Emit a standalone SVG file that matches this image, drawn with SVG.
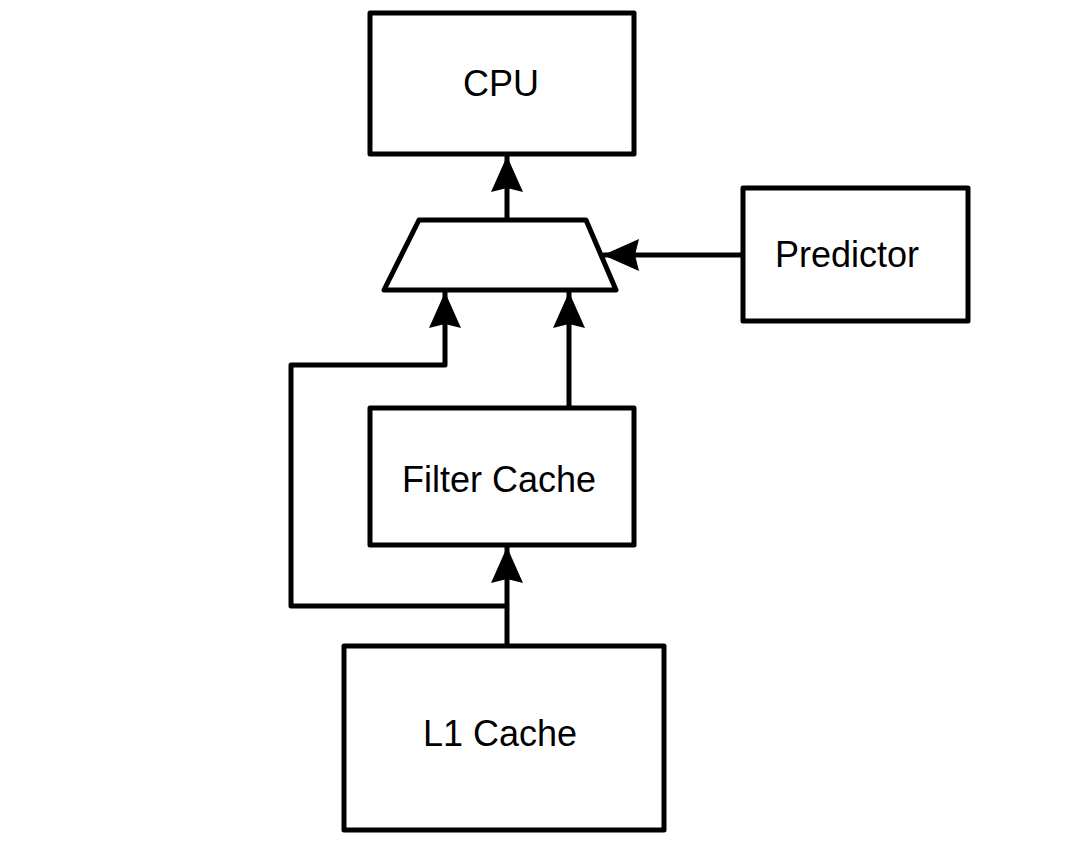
<svg xmlns="http://www.w3.org/2000/svg" width="1091" height="844" viewBox="0 0 1091 844">
<style>
.box{fill:#fff;stroke:#000;stroke-width:5;stroke-linejoin:round}
.lbl{font-family:"Liberation Sans",Arial,sans-serif;font-size:36px;fill:#000;text-anchor:middle}
.wire{fill:none;stroke:#000;stroke-width:5;stroke-linejoin:round}
</style>
<defs>
<marker id="ah" markerUnits="userSpaceOnUse" viewBox="0 0 36 32" markerWidth="36" markerHeight="32" refX="36" refY="16" orient="auto">
<path d="M0,0 L36,16 L0,32 L4,16 Z" fill="#000"/>
</marker>
</defs>
<rect width="1091" height="844" fill="#fff"/>
<g id="connectors">
<path class="wire" d="M507,220 L507,156" marker-end="url(#ah)"/>
<path class="wire" d="M743,255 L603,255" marker-end="url(#ah)"/>
<path class="wire" d="M569,408 L569,292" marker-end="url(#ah)"/>
<path class="wire" d="M507,606 L291,606 L291,365 L445,365 L445,292" marker-end="url(#ah)"/>
<path class="wire" d="M507,646 L507,547" marker-end="url(#ah)"/>
</g>
<g id="cpu"><rect class="box" x="370" y="13" width="264" height="141"/><text class="lbl" x="501" y="96">CPU</text></g>
<g id="mux"><polygon class="box" points="419,220 586,220 616,290 384,290"/></g>
<g id="predictor"><rect class="box" x="743" y="188" width="225" height="133"/><text class="lbl" x="847" y="267">Predictor</text></g>
<g id="filter-cache"><rect class="box" x="370" y="408" width="264" height="137"/><text class="lbl" x="499" y="492">Filter Cache</text></g>
<g id="l1-cache"><rect class="box" x="344" y="646" width="320" height="184"/><text class="lbl" x="500" y="746">L1 Cache</text></g>
</svg>
